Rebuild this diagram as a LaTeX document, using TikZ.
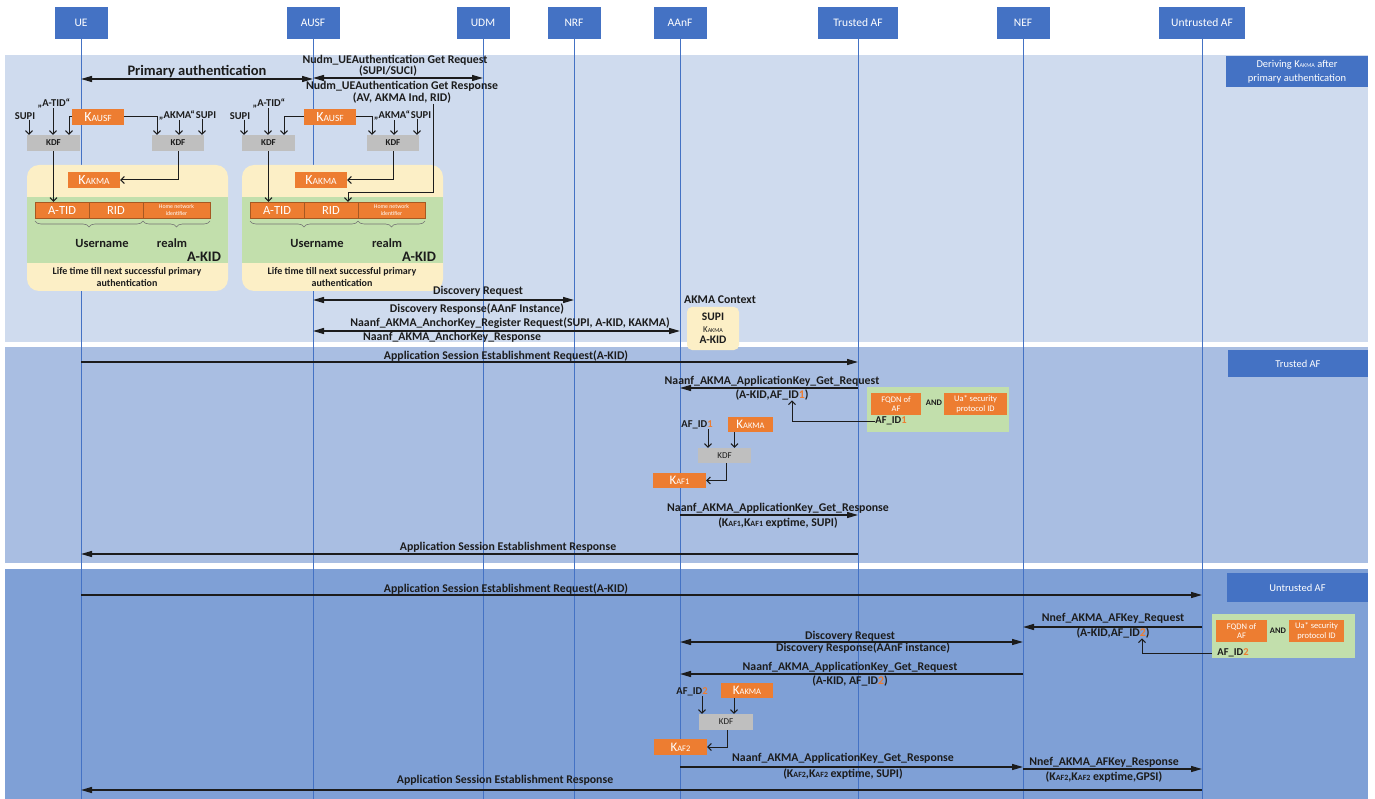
\documentclass[tikz,border=0pt]{standalone}
\usepackage{fontspec}
\setmainfont{Carlito}
\usetikzlibrary{arrows.meta,decorations.pathreplacing}
\definecolor{hdr}{HTML}{4472C4}
\definecolor{bandA}{HTML}{CFDBEE}
\definecolor{bandB}{HTML}{A9BEE2}
\definecolor{bandC}{HTML}{7FA0D6}
\definecolor{org}{HTML}{ED7D31}
\definecolor{kdfgray}{HTML}{BFBFBF}
\definecolor{grn}{HTML}{C2DFAC}
\definecolor{ylw}{HTML}{FCEFC6}
\definecolor{ink}{HTML}{1C1C1C}
\newcommand{\keyK}[3]{{\fontsize{#2}{#2}\selectfont K}{\fontsize{#3}{#3}\selectfont #1}}
\tikzset{
 hdrbox/.style={fill=hdr, text=white, minimum height=32pt, inner sep=0pt, font=\fontsize{11.5}{13}\selectfont},
 life/.style={draw=hdr, line width=0.9pt},
 msg/.style={line width=1.4pt, draw=ink, -{Triangle[length=11pt,width=6pt]}},
 dmsg/.style={line width=1.4pt, draw=ink, {Triangle[length=11pt,width=6pt]}-{Triangle[length=11pt,width=6pt]}},
 lbl/.style={inner sep=0pt, text=ink, font=\bfseries\fontsize{11.8}{13}\selectfont},
 keyb/.style={fill=org, text=white, inner sep=0pt, minimum width=52pt, minimum height=16pt},
 cellb/.style={fill=org, text=white, inner sep=0pt, minimum height=16pt, draw=org!70!black, line width=0.4pt},
 kdfb/.style={fill=kdfgray, text=ink, inner sep=0pt, minimum height=16pt, font=\bfseries\fontsize{9}{10}\selectfont},
 sarr/.style={line width=1pt, draw=ink, -{Straight Barb[length=3.5pt,width=7pt]}},
 seclbl/.style={fill=hdr, text=white, inner sep=0pt, align=center, font=\fontsize{10.5}{14}\selectfont},
 brc/.style={draw=black!55, line width=0.6pt, decorate, decoration={brace, mirror, amplitude=6pt}},
 smalllbl/.style={inner sep=0pt, text=ink, font=\bfseries\fontsize{10.5}{12}\selectfont},
}
\begin{document}
\begin{tikzpicture}[x=1pt,y=-1pt]
\useasboundingbox (0,0) rectangle (1375,799);
\fill[white] (0,0) rectangle (1375,799);
% bands
\fill[bandA] (5,55) rectangle (1368,342);
\fill[bandB] (5,347) rectangle (1368,563);
\fill[bandC] (5,569) rectangle (1368,799);
% headers
\node[hdrbox,minimum width=53pt] (ue) at (81,23) {UE};
\node[hdrbox,minimum width=53pt] (ausf) at (313,23) {AUSF};
\node[hdrbox,minimum width=53pt] (udm) at (483,23) {UDM};
\node[hdrbox,minimum width=53pt] (nrf) at (574,23) {NRF};
\node[hdrbox,minimum width=53pt] (aanf) at (680,23) {AAnF};
\node[hdrbox,minimum width=80pt] (taf) at (858,23) {Trusted AF};
\node[hdrbox,minimum width=53pt] (nef) at (1023,23) {NEF};
\node[hdrbox,minimum width=86pt] (uaf) at (1202,23) {Untrusted AF};
\foreach \n in {ue,ausf,udm,nrf,aanf,taf,nef,uaf}{\draw[life] (\n.south) -- (\n.south |- 0,799);}
% section labels
\node[seclbl, minimum width=142pt, minimum height=31pt] (secA) at (1297,71.5) {Deriving K{\fontsize{6}{6}\selectfont AKMA} after\\primary authentication};
\node[seclbl, minimum width=140pt, minimum height=27pt] (secB) at (1298,363.5) {Trusted AF};
\node[seclbl, minimum width=141pt, minimum height=29pt] (secC) at (1297.5,587.5) {Untrusted AF};
% derivation blocks
\foreach \p/\dx/\ka/\kk in {a/0/98/94,b/215/115/106}{
\begin{scope}[xshift=\dx pt]
 \fill[ylw, rounded corners=12pt] (27,165) rectangle (228,291);
 \fill[grn] (27,197) rectangle (228,263);
 \node[cellb, minimum width=54pt, font=\fontsize{12.5}{13}\selectfont] (atid\p) at (62,210) {A-TID};
 \node[cellb, minimum width=54pt, font=\fontsize{12.5}{13}\selectfont] (rid\p) at (116,210) {RID};
 \node[cellb, minimum width=67pt, align=center, font=\fontsize{5.8}{6.3}\selectfont] (hni\p) at (176.5,210) {Home network\\identifier};
 \node[kdfb, minimum width=53pt] (kdfa\p) at (53.5,143) {KDF};
 \node[kdfb, minimum width=52pt] (kdfb\p) at (178,143) {KDF};
 \node[keyb] (kausf\p) at (\ka,117) {\keyK{AUSF}{14}{9.5}};
 \node[keyb] (kakma\p) at (\kk,180) {\keyK{AKMA}{14}{9.5}};
 \node[smalllbl] (supia\p) at (25,116) {SUPI};
 \node[smalllbl] (atidl\p) at (54,103) {„A-TID“};
 \node[smalllbl] (akmal\p) at (177,115) {„AKMA“};
 \node[smalllbl] (supib\p) at (206,115) {SUPI};
 \draw[sarr] ([xshift=4pt]supia\p.south) -- ([xshift=4pt]supia\p.south |- kdfa\p.north);
 \draw[sarr] ([xshift=-1pt]atidl\p.south) -- ([xshift=-1pt]atidl\p.south |- kdfa\p.north);
 \draw[sarr] (kausf\p.west) -| (kdfa\p.north -| 69,0);
 \draw[sarr] (kausf\p.east) -| (kdfb\p.north -| 157,0);
 \draw[sarr] ([xshift=2pt]akmal\p.south) -- ([xshift=2pt]akmal\p.south |- kdfb\p.north);
 \draw[sarr] ([xshift=-4pt]supib\p.south) -- ([xshift=-4pt]supib\p.south |- kdfb\p.north);
 \draw[sarr] (kdfa\p.south) -- (kdfa\p.south |- atid\p.north);
 \draw[sarr] (kdfb\p.south) |- (kakma\p.east);
 \draw[brc] (35,221) -- (143,221);
 \draw[brc] (143,221) -- (210,221);
 \node[lbl, font=\bfseries\fontsize{12.5}{14}\selectfont] (un\p) at (102,243) {Username};
 \node[lbl, font=\bfseries\fontsize{12.5}{14}\selectfont] (rl\p) at (172,243) {realm};
 \node[lbl, font=\bfseries\fontsize{14.5}{16}\selectfont] (akid\p) at (204,257) {A-KID};
 \node[smalllbl, align=center, font=\bfseries\fontsize{10}{12}\selectfont] (lt\p) at (127,277) {Life time till next successful primary\\authentication};
\end{scope}
}
% messages band 1
\node[lbl, font=\bfseries\fontsize{14.5}{16}\selectfont] (tpa) at (197,72) {Primary authentication};
\draw[dmsg] (ue.south |- 0,79) -- (ausf.south |- 0,79);
\node[lbl] (tnq1) at (395,60) {Nudm\_UEAuthentication Get Request};
\node[lbl] (tnq2) at (388,71) {(SUPI/SUCI)};
\draw[dmsg] (ausf.south |- 0,78) -- (udm.south |- 0,78);
\node[lbl] (tnr1) at (402,86) {Nudm\_UEAuthentication Get Response};
\node[lbl] (tnr2) at (402,98) {(AV, AKMA Ind, RID)};
\coordinate (ridsrc) at (433,104);
\draw[sarr] (ridsrc) |- (348,193) -- (ridb.north -| 348,0);
\node[lbl] (tdq) at (478,291) {Discovery Request};
\draw[dmsg] (ausf.south |- 0,300) -- (nrf.south |- 0,300);
\node[lbl] (tdr) at (477,309) {Discovery Response(AAnF Instance)};
\node[lbl] (tar) at (510,323) {Naanf\_AKMA\_AnchorKey\_Register Request(SUPI, A-KID, KAKMA)};
\draw[dmsg] (ausf.south |- 0,331) -- (aanf.south |- 0,331);
\node[lbl] (tas) at (452,337) {Naanf\_AKMA\_AnchorKey\_Response};
\node[lbl] (ctxl) at (720,300) {AKMA Context};
\node[fill=ylw, rounded corners=5pt, minimum width=52pt, minimum height=43pt, inner sep=0pt, align=center, text=ink, font=\bfseries\fontsize{11.5}{11.5}\selectfont] (ctx) at (713,328.5) {SUPI\\{\mdseries\keyK{AKMA}{9}{6}}\\A-KID};
% band 2
\node[lbl] (tq1) at (506,356) {Application Session Establishment Request(A-KID)};
\draw[msg] (ue.south |- 0,362) -- (taf.south |- 0,362);
\node[lbl] (tkq) at (772,381) {Naanf\_AKMA\_ApplicationKey\_Get\_Request};
\draw[msg] (taf.south |- 0,388) -- (aanf.south |- 0,388);
\node[lbl] (tkq2) at (772,395) {(A-KID,AF\_ID\textcolor{org}{1})};
\node[fill=grn, minimum width=142pt, minimum height=45pt, inner sep=0pt] (gT) at (938,409.5) {};
\node[keyb, minimum width=50pt, minimum height=22pt, align=center, font=\fontsize{8.5}{9.5}\selectfont] (fqT) at (896,404) {FQDN of\\AF};
\node[smalllbl, font=\bfseries\fontsize{8.5}{9}\selectfont] (andT) at (934,403) {AND};
\node[keyb, minimum width=63pt, minimum height=22pt, align=center, font=\fontsize{8.5}{9.5}\selectfont] (uaT) at (975.5,404) {Ua* security\\protocol ID};
\node[smalllbl] (afT) at (891,421) {AF\_ID\textcolor{org}{1}};
\draw[sarr] (afT.west) -| (tkq2.south -| 792,0);
\node[smalllbl] (afiT) at (697,425) {AF\_ID\textcolor{org}{1}};
\node[keyb, minimum width=45pt, minimum height=15pt] (kakT) at (750.5,424.5) {\keyK{AKMA}{13}{8.5}};
\node[kdfb, minimum width=53pt, minimum height=15pt, font=\fontsize{9}{10}\selectfont] (kdfT) at (724.5,455.5) {KDF};
\node[keyb, minimum width=53pt, minimum height=15pt] (kafT) at (679.5,480.5) {\keyK{AF1}{13}{8.5}};
\draw[sarr] ([xshift=11pt]afiT.south) -- ([xshift=11pt]afiT.south |- kdfT.north);
\draw[sarr] ([xshift=-16pt]kakT.south) -- ([xshift=-16pt]kakT.south |- kdfT.north);
\draw[sarr] ([xshift=1.5pt]kdfT.south) |- (kafT.east);
\node[lbl] (tks) at (778,508) {Naanf\_AKMA\_ApplicationKey\_Get\_Response};
\draw[msg] (aanf.south |- 0,515) -- (taf.south |- 0,515);
\node[lbl] (tks2) at (778,523) {(\keyK{AF1}{11.8}{8},\keyK{AF1}{11.8}{8} exptime, SUPI)};
\node[lbl] (tr1) at (508,547) {Application Session Establishment Response};
\draw[msg] (taf.south |- 0,554) -- (ue.south |- 0,554);
% band 3
\node[lbl] (tq3) at (506,589) {Application Session Establishment Request(A-KID)};
\draw[msg] (ue.south |- 0,595) -- (uaf.south |- 0,595);
\node[lbl] (tnf) at (1113,618) {Nnef\_AKMA\_AFKey\_Request};
\draw[msg] (uaf.south |- 0,627) -- (nef.south |- 0,627);
\node[lbl] (tnf2) at (1113,633) {(A-KID,AF\_ID\textcolor{org}{2})};
\node[fill=grn, minimum width=143pt, minimum height=44pt, inner sep=0pt] (gU) at (1283.5,636) {};
\node[keyb, minimum width=51pt, minimum height=22pt, align=center, font=\fontsize{8.5}{9.5}\selectfont] (fqU) at (1241.5,631) {FQDN of\\AF};
\node[smalllbl, font=\bfseries\fontsize{8.5}{9}\selectfont] (andU) at (1278,631) {AND};
\node[keyb, minimum width=55pt, minimum height=22pt, align=center, font=\fontsize{8.5}{9.5}\selectfont] (uaU) at (1316.5,631) {Ua* security\\protocol ID};
\node[smalllbl] (afU) at (1233,653) {AF\_ID\textcolor{org}{2}};
\draw[sarr] (gU.west |- afU.west) -| (tnf2.south -| 1142,0);
\node[lbl] (tdq3) at (850,636) {Discovery Request};
\draw[dmsg] (aanf.south |- 0,642) -- (nef.south |- 0,642);
\node[lbl] (tdr3) at (863,648) {Discovery Response(AAnF instance)};
\node[lbl] (tkq3) at (850,667) {Naanf\_AKMA\_ApplicationKey\_Get\_Request};
\draw[msg] (nef.south |- 0,674) -- (aanf.south |- 0,674);
\node[lbl] (tkq4) at (850,681) {(A-KID, AF\_ID\textcolor{org}{2})};
\node[smalllbl] (afiU) at (692,692) {AF\_ID\textcolor{org}{2}};
\node[keyb, minimum width=52pt, minimum height=15pt] (kakU) at (747,690.5) {\keyK{AKMA}{13}{8.5}};
\node[kdfb, minimum width=54pt, minimum height=16pt, font=\fontsize{9}{10}\selectfont] (kdfU) at (726,722) {KDF};
\node[keyb, minimum width=53pt, minimum height=16pt] (kafU) at (680.5,747) {\keyK{AF2}{13}{8.5}};
\draw[sarr] ([xshift=10pt]afiU.south) -- ([xshift=10pt]afiU.south |- kdfU.north);
\draw[sarr] ([xshift=-13pt]kakU.south) -- ([xshift=-13pt]kakU.south |- kdfU.north);
\draw[sarr] ([xshift=1pt]kdfU.south) |- (kafU.east);
\node[lbl] (tks3) at (843,758) {Naanf\_AKMA\_ApplicationKey\_Get\_Response};
\draw[msg] (aanf.south |- 0,767) -- (nef.south |- 0,767);
\node[lbl] (tks4) at (843,774) {(\keyK{AF2}{11.8}{8},\keyK{AF2}{11.8}{8} exptime, SUPI)};
\node[lbl] (tnr3) at (1104,762) {Nnef\_AKMA\_AFKey\_Response};
\draw[msg] (nef.south |- 0,769) -- (uaf.south |- 0,769);
\node[lbl] (tnr4) at (1104,777) {(\keyK{AF2}{11.8}{8},\keyK{AF2}{11.8}{8} exptime,GPSI)};
\node[lbl] (tr3) at (505,780) {Application Session Establishment Response};
\draw[msg] (uaf.south |- 0,790) -- (ue.south |- 0,790);
\end{tikzpicture}
\end{document}
